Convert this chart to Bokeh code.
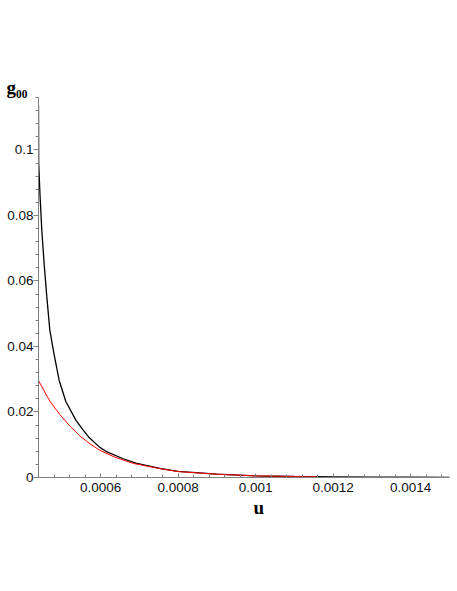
from bokeh.plotting import figure
from bokeh.models import FixedTicker, Range1d, Title
from bokeh.embed import file_html
from bokeh.resources import INLINE

# ---- data ----
black_u = [0.000440, 0.0004405, 0.0004441, 0.0004485, 0.0004545, 0.0004614, 0.0004692,
           0.0004803, 0.0004932, 0.0005105, 0.0005363, 0.0005543, 0.0005706, 0.0005982,
           0.0006137, 0.0006568, 0.0006911, 0.000753, 0.0008, 0.0009, 0.0010, 0.0011,
           0.0012, 0.0013, 0.0014, 0.0015]
black_g = [0.1137, 0.0959, 0.0857, 0.0755, 0.0653, 0.0552, 0.0450,
           0.0375, 0.0297, 0.0232, 0.0175, 0.0146, 0.0122, 0.0092,
           0.0080, 0.0058, 0.0044, 0.0028, 0.0019, 0.0010, 0.0005, 0.0003,
           0.0002, 0.00012, 0.00008, 0.00005]

red_u = [0.000440, 0.0004692, 0.0004951, 0.0005209, 0.0005467, 0.0005725, 0.0005982,
         0.000637, 0.0006844, 0.000753, 0.0008, 0.0009, 0.0010, 0.0011, 0.00116]
red_g = [0.0296, 0.0233, 0.0192, 0.0157, 0.0127, 0.0103, 0.0083,
         0.0062, 0.0043, 0.0027, 0.0018, 0.0010, 0.0005, 0.0003, 0.0002]

x_ticks = [0.0006, 0.0008, 0.001, 0.0012, 0.0014]
x_tick_labels = ["0.0006", "0.0008", "0.001", "0.0012", "0.0014"]
y_ticks = [0, 0.02, 0.04, 0.06, 0.08, 0.1]
y_tick_labels = ["0", "0.02", "0.04", "0.06", "0.08", "0.1"]
y_title = "g\u2080\u2080"
x_title = "u"

x_range = (0.00044, 0.0015)
y_range = (0.0, 0.1160)
x_minor = [round(0.00044 + i * 0.00004, 6) for i in range(27)]
y_minor = [round(i * 0.004, 4) for i in range(30)]

AXIS_GRAY = "#808080"
TICK_FONT = "Liberation Sans"
SERIF = "Liberation Serif"

p = figure(width=457, height=591, output_backend="svg", toolbar_location=None,
           x_range=Range1d(*x_range), y_range=Range1d(*y_range),
           min_border_left=38, min_border_right=8, min_border_top=97, min_border_bottom=114)
p.outline_line_color = None
p.xgrid.visible = False
p.ygrid.visible = False

# y-axis title (top-left, above the axis)
p.title.text = y_title
p.title.align = "left"
p.title.offset = -32
p.title.standoff = 0
p.title.text_baseline = "alphabetic"
p.title.text_font = SERIF
p.title.text_font_style = "bold"
p.title.text_font_size = "19px"
p.title.text_color = "black"

p.line(black_u, black_g, line_color="black", line_width=1.3)
p.line(red_u, red_g, line_color="#ff0000", line_width=1.0)

# x axis
xa = p.xaxis[0]
xa.ticker = FixedTicker(ticks=x_ticks, minor_ticks=x_minor)
xa.major_label_overrides = {t: l for t, l in zip(x_ticks, x_tick_labels)}
xa.axis_line_color = AXIS_GRAY
xa.major_tick_line_color = AXIS_GRAY
xa.minor_tick_line_color = AXIS_GRAY
xa.major_tick_in = 4
xa.major_tick_out = 0
xa.minor_tick_in = 3
xa.minor_tick_out = 0
xa.major_label_standoff = 5
xa.major_label_text_font = TICK_FONT
xa.major_label_text_font_size = "13.5px"
xa.major_label_text_color = "#111111"

# y axis
ya = p.yaxis[0]
ya.ticker = FixedTicker(ticks=y_ticks, minor_ticks=y_minor)
ya.major_label_overrides = {t: l for t, l in zip(y_ticks, y_tick_labels)}
ya.axis_line_color = AXIS_GRAY
ya.major_tick_line_color = AXIS_GRAY
ya.minor_tick_line_color = AXIS_GRAY
ya.major_tick_in = 0
ya.major_tick_out = 5
ya.minor_tick_in = 0
ya.minor_tick_out = 3
ya.major_label_standoff = 0
ya.major_label_text_font = TICK_FONT
ya.major_label_text_font_size = "13.5px"
ya.major_label_text_color = "#111111"

# x-axis title "u" below the tick labels, right of centre as in the reference
p.add_layout(Title(text=x_title, align="left", offset=215, standoff=0,
                   text_font=SERIF, text_font_style="bold", text_font_size="19px",
                   text_color="black"), "below")

open("out.html", "w").write(file_html(p, INLINE))
